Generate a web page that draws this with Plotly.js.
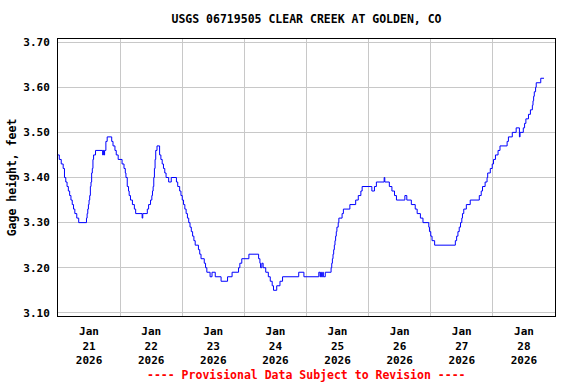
<!DOCTYPE html>
<html>
<head>
<meta charset="utf-8">
<script src="https://cdn.plot.ly/plotly-3.0.1.min.js"></script>
<style>html,body{margin:0;padding:0;background:#fff;}#chart{width:576px;height:384px;}</style>
</head>
<body>
<div id="chart"></div>
<script>
// Start of the record: 2026-01-21 00:00 (local station time)
var startDate = [2026, 0, 21];

// Hours since start at which the gage height changed, and the new value (feet)
var hoursSinceStart = [
  0, 0.5, 1.25, 2.0, 2.5, 3.0, 3.5, 4.0, 4.5, 5.0, 5.5, 6.0, 6.5, 7.25, 8.0,
  11.0, 11.25, 11.5, 11.75, 12.0, 12.25, 12.5, 12.75, 13.0, 13.25, 13.5, 13.75, 14.5,
  17.25, 17.5, 17.75, 18.0, 18.5, 19.0, 20.75, 21.25, 22.0, 22.5, 23.25,
  24.75, 25.5, 26.0, 26.25, 26.75, 27.25, 27.5, 28.0, 28.75, 29.5, 30.0, 32.5, 32.75,
  34.5, 35.0, 35.75, 36.25, 36.5, 36.75, 37.0, 37.25, 37.5, 37.75, 38.25,
  39.25, 39.75, 40.25, 40.75, 41.25, 41.75, 42.75, 43.75, 45.75, 46.25, 47.0, 47.5,
  48.0, 48.5, 49.0, 49.5, 50.0, 50.5, 51.0, 51.5, 52.0, 52.5, 53.0, 54.25, 54.75,
  55.25, 56.5, 57.0, 57.5, 58.75, 59.5, 60.75, 63.0, 65.5, 67.25, 69.75, 70.25, 71.0,
  73.75, 77.5, 78.0, 78.25, 78.75, 79.25, 80.25, 81.25, 82.0, 82.75, 83.25, 84.5,
  85.75, 86.75, 93.0, 95.0, 100.75, 101.25, 101.5, 101.75, 102.25, 102.5, 103.25,
  105.5, 105.75, 106.0, 106.25, 106.5, 106.75, 107.0, 107.25, 107.5, 107.75, 108.25,
  108.5, 109.75, 110.25, 112.75, 115.0, 116.0, 117.0, 117.5, 121.25, 122.25, 123.0,
  126.0, 126.25, 128.0, 129.0, 130.0, 130.75, 134.0, 134.75, 136.5, 138.0, 138.75,
  140.0, 141.0, 143.25, 143.5, 144.0, 144.5, 145.5, 153.5, 154.0, 154.5, 155.0,
  155.5, 156.0, 156.25, 156.75, 157.75, 159.25, 162.75, 163.5, 164.0, 165.0, 165.75,
  166.0, 167.0, 167.75, 168.25, 169.0, 170.0, 170.75, 173.5, 174.0, 175.5, 177.0,
  178.25, 178.5, 179.75, 180.25, 180.75, 181.75, 182.5, 183.25, 183.5, 183.75, 184.0,
  184.5, 184.75, 186.5, 187.75
];
var gageHeight = [
  3.45, 3.44, 3.43, 3.42, 3.40, 3.39, 3.38, 3.37, 3.36, 3.35, 3.34, 3.33, 3.32, 3.31, 3.30,
  3.31, 3.32, 3.33, 3.34, 3.35, 3.36, 3.38, 3.39, 3.41, 3.42, 3.44, 3.45, 3.46,
  3.45, 3.46, 3.45, 3.46, 3.48, 3.49, 3.48, 3.47, 3.46, 3.45, 3.44,
  3.43, 3.42, 3.41, 3.40, 3.38, 3.37, 3.36, 3.35, 3.34, 3.33, 3.32, 3.31, 3.32,
  3.33, 3.34, 3.35, 3.36, 3.37, 3.38, 3.40, 3.42, 3.44, 3.46, 3.47,
  3.45, 3.44, 3.43, 3.42, 3.41, 3.40, 3.39, 3.40, 3.39, 3.38, 3.37, 3.36,
  3.35, 3.34, 3.33, 3.32, 3.31, 3.30, 3.29, 3.28, 3.27, 3.26, 3.25, 3.24, 3.23,
  3.22, 3.21, 3.20, 3.19, 3.18, 3.19, 3.18, 3.17, 3.18, 3.19, 3.20, 3.21, 3.22,
  3.23, 3.22, 3.21, 3.20, 3.21, 3.20, 3.19, 3.18, 3.17, 3.16, 3.15, 3.16,
  3.17, 3.18, 3.19, 3.18, 3.19, 3.18, 3.19, 3.18, 3.19, 3.18, 3.19,
  3.20, 3.21, 3.22, 3.23, 3.24, 3.25, 3.26, 3.27, 3.28, 3.29, 3.30,
  3.31, 3.32, 3.33, 3.34, 3.35, 3.36, 3.37, 3.38, 3.37, 3.38, 3.39,
  3.40, 3.39, 3.38, 3.37, 3.36, 3.35, 3.36, 3.35, 3.34, 3.33, 3.32,
  3.31, 3.30, 3.29, 3.28, 3.27, 3.26, 3.25, 3.26, 3.27, 3.28, 3.29,
  3.30, 3.31, 3.32, 3.33, 3.34, 3.35, 3.36, 3.37, 3.38, 3.39, 3.40,
  3.41, 3.42, 3.43, 3.44, 3.45, 3.46, 3.47, 3.48, 3.49, 3.50, 3.51,
  3.49, 3.50, 3.51, 3.52, 3.53, 3.54, 3.55, 3.56, 3.57, 3.58, 3.59,
  3.60, 3.61, 3.62, 3.62
];

// Axis labels (placed at noon of each day) and day boundaries
var tickDates = ['2026-01-21 12:00', '2026-01-22 12:00', '2026-01-23 12:00', '2026-01-24 12:00',
                 '2026-01-25 12:00', '2026-01-26 12:00', '2026-01-27 12:00', '2026-01-28 12:00'];
var tickLabels = ['Jan<br>21<br>2026', 'Jan<br>22<br>2026', 'Jan<br>23<br>2026', 'Jan<br>24<br>2026',
                  'Jan<br>25<br>2026', 'Jan<br>26<br>2026', 'Jan<br>27<br>2026', 'Jan<br>28<br>2026'];
var xRange = ['2026-01-21 00:00', '2026-01-29 00:00'];
var yTicks = [3.10, 3.20, 3.30, 3.40, 3.50, 3.60, 3.70];

var titleText = 'USGS 06719505 CLEAR CREEK AT GOLDEN, CO';
var yTitle = 'Gage height, feet';
var footerText = '---- Provisional Data Subject to Revision ----';

function pad(n) { return (n < 10 ? '0' : '') + n; }
function toDateString(h) {
  var d = new Date(Date.UTC(startDate[0], startDate[1], startDate[2]) + Math.round(h * 3600000));
  return d.getUTCFullYear() + '-' + pad(d.getUTCMonth() + 1) + '-' + pad(d.getUTCDate()) + ' ' +
         pad(d.getUTCHours()) + ':' + pad(d.getUTCMinutes());
}
var xs = hoursSinceStart.map(toDateString);

var FONT = '"DejaVu Sans Mono", "Liberation Mono", monospace';

var trace = {
  x: xs, y: gageHeight, type: 'scatter', mode: 'lines',
  line: {color: '#0000ff', width: 1, shape: 'hv'},
  hoverinfo: 'skip'
};

var layout = {
  width: 576, height: 384,
  margin: {l: 58, r: 21, t: 39, b: 68},
  paper_bgcolor: '#ffffff', plot_bgcolor: '#ffffff',
  showlegend: false,
  font: {family: FONT, size: 11, color: '#000000', weight: 'bold'},
  title: {
    text: titleText, x: 0.5, xref: 'paper', y: 1 - 19 / 384, yref: 'container',
    xanchor: 'center', yanchor: 'middle',
    font: {family: FONT, size: 11.5, color: '#000000', weight: 'bold'}
  },
  xaxis: {
    type: 'date', range: xRange,
    tickmode: 'array', tickvals: tickDates, ticktext: tickLabels,
    showgrid: false, ticks: 'outside', ticklen: 5, tickcolor: 'rgba(0,0,0,0)',
    tickfont: {family: FONT, size: 11, color: '#000000', weight: 'bold'},
    showline: true, linecolor: '#000000', linewidth: 1, mirror: true, zeroline: false,
    minor: {tickmode: 'linear', tick0: '2026-01-21 00:00', dtick: 86400000,
            showgrid: true, gridcolor: '#c8c8c8', gridwidth: 1, ticks: ''}
  },
  yaxis: {
    range: [3.093, 3.707], tickmode: 'array', tickvals: yTicks,
    ticktext: yTicks.map(function (v) { return v.toFixed(2); }),
    showgrid: true, gridcolor: '#c8c8c8', gridwidth: 1,
    ticks: 'outside', ticklen: 5, tickcolor: 'rgba(0,0,0,0)',
    tickfont: {family: FONT, size: 11, color: '#000000', weight: 'bold'},
    showline: true, linecolor: '#000000', linewidth: 1, mirror: true, zeroline: false,
    title: {text: yTitle, standoff: 4, font: {family: FONT, size: 11.5, color: '#000000', weight: 'bold'}}
  },
  annotations: [{
    text: footerText, xref: 'paper', yref: 'paper', x: 0.5, y: (316 - 375) / 277,
    xanchor: 'center', yanchor: 'middle', showarrow: false,
    font: {family: FONT, size: 11.5, color: '#ff0000', weight: 'bold'}
  }]
};

Plotly.newPlot('chart', [trace], layout, {staticPlot: true, displayModeBar: false});
</script>
</body>
</html>
